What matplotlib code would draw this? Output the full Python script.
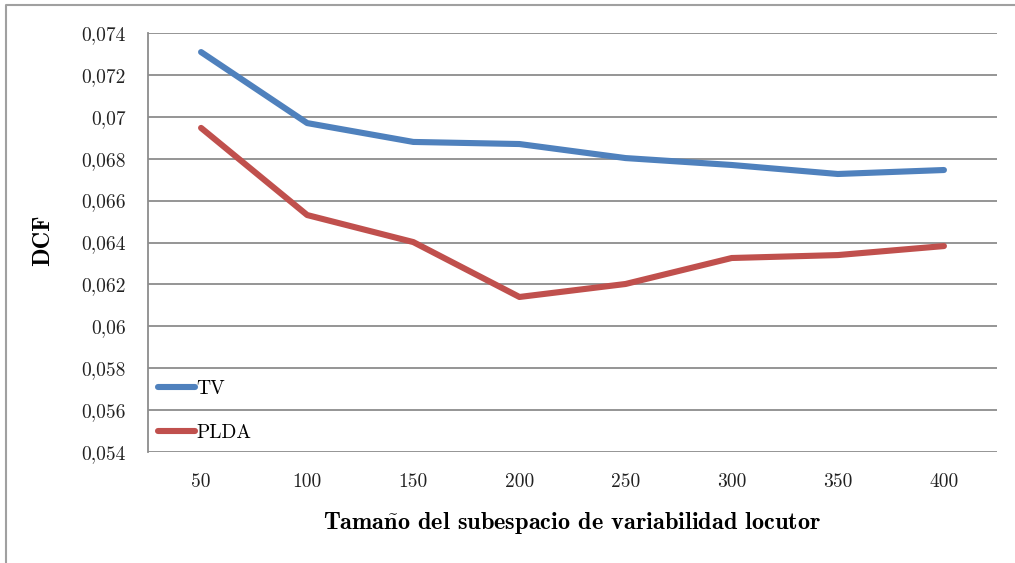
import matplotlib
matplotlib.use("Agg")
import matplotlib.pyplot as plt
from matplotlib.lines import Line2D

# Data
sizes = [50, 100, 150, 200, 250, 300, 350, 400]
tv = [0.07309, 0.0697, 0.0688, 0.0687, 0.06803, 0.0677, 0.06727, 0.06746]
plda = [0.06947, 0.06531, 0.06402, 0.0614, 0.06202, 0.06326, 0.0634, 0.06383]
y_ticks = [0.054, 0.056, 0.058, 0.060, 0.062, 0.064, 0.066, 0.068, 0.070, 0.072, 0.074]
y_tick_labels = ["0,054", "0,056", "0,058", "0,06", "0,062", "0,064",
                 "0,066", "0,068", "0,07", "0,072", "0,074"]
series_names = ["TV", "PLDA"]
colors = ["#4F81BD", "#C0504D"]

W, H = 1015, 563
plt.rcParams["font.family"] = ["cmr10", "DejaVu Serif"]
plt.rcParams["axes.unicode_minus"] = False
plt.rcParams["mathtext.fontset"] = "cm"

fig = plt.figure(figsize=(W / 100, H / 100), dpi=100)
ax = fig.add_axes([148 / W, 1 - 452 / H, (997 - 148) / W, (452 - 33) / H])

x = list(range(len(sizes)))
for vals, name, c in zip([tv, plda], series_names, colors):
    ax.plot(x, vals, color=c, lw=4.4, solid_capstyle="round",
            solid_joinstyle="round", label=name, zorder=3)

ax.set_xlim(-0.5, len(sizes) - 0.5)
ax.set_ylim(0.054, 0.074)
ax.set_yticks(y_ticks)
ax.set_yticklabels(y_tick_labels)
ax.set_xticks(x)
ax.set_xticklabels([str(s) for s in sizes])
ax.tick_params(axis="both", length=0, labelsize=14, colors="#222222")
ax.tick_params(axis="y", pad=16)
ax.tick_params(axis="x", pad=15)

ax.grid(axis="y", color="#8c8c8c", lw=1.3, zorder=1)
for s in ["top", "right", "bottom"]:
    ax.spines[s].set_visible(False)
ax.spines["left"].set_color("#8c8c8c")
ax.spines["left"].set_linewidth(1.3)

ax.set_ylabel("DCF", family=["cmb10", "DejaVu Serif"], fontsize=17.5)
ax.set_xlabel(r"Tama$\mathbf{\tilde{n}}$o del subespacio de variabilidad locutor",
              family=["cmb10", "DejaVu Serif"], fontsize=17.5, labelpad=14)
ax.yaxis.set_label_coords(43 / W, 1 - 240 / H, transform=fig.transFigure)
ax.yaxis.label.set_va("center")

leg = ax.legend(loc="lower left", bbox_to_anchor=(0.0, 0.0), frameon=False,
                handlelength=1.9, handletextpad=0.1, labelspacing=1.35,
                borderaxespad=0.3, borderpad=0.2, fontsize=14)

# Outer chart frame (top and left edges)
fig.add_artist(Line2D([6 / W, 6 / W, 1.0], [0.0, 1 - 5 / H, 1 - 5 / H],
                      transform=fig.transFigure, color="#a0a0a0", lw=1.5))

fig.savefig("out.png", dpi=100, facecolor="white")
